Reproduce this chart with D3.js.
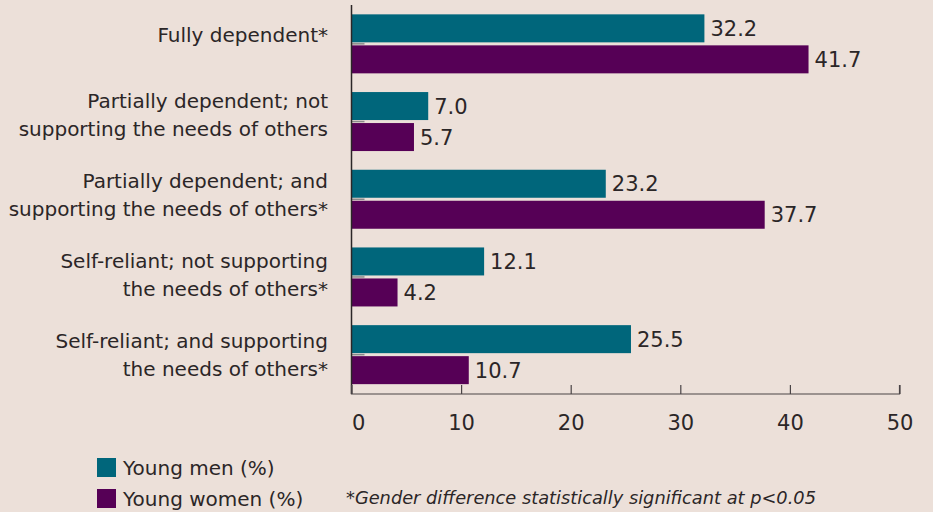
<!DOCTYPE html>
<html><head><meta charset="utf-8">
<script src="https://cdn.jsdelivr.net/npm/d3@7"></script>
<style>
html,body{margin:0;padding:0;background:#ece0d9;}
svg{display:block;}
text{font-family:"DejaVu Sans",sans-serif;fill:#2b2627;}
</style></head>
<body>
<svg id="chart" width="933" height="512"></svg>
<script>
const categories = [
  ["Fully dependent*"],
  ["Partially dependent; not", "supporting the needs of others"],
  ["Partially dependent; and", "supporting the needs of others*"],
  ["Self-reliant; not supporting", "the needs of others*"],
  ["Self-reliant; and supporting", "the needs of others*"]
];
const youngMen = [32.2, 7.0, 23.2, 12.1, 25.5];
const youngWomen = [41.7, 5.7, 37.7, 4.2, 10.7];
const xTicks = [0, 10, 20, 30, 40, 50];
const seriesNames = ["Young men (%)", "Young women (%)"];
const footnote = "*Gender difference statistically significant at p<0.05";

const colors = ["#00667b", "#560056"];
const svg = d3.select("#chart");
const x = d3.scaleLinear().domain([0, 50]).range([351.5, 899.5]);
const y = d3.scaleBand().domain(d3.range(categories.length)).range([5, 393.5]).paddingInner(0.26).paddingOuter(0.13);
const labelY = d3.scaleLinear().domain([0, categories.length - 1]).range([35, 355]);
const barH = 28, gap = 3;

// bars
const groups = svg.append("g").selectAll("g").data(categories).join("g")
  .attr("transform", (d, i) => `translate(0,${y(i) + y.bandwidth()/2})`);

[youngMen, youngWomen].forEach((vals, s) => {
  groups.append("rect")
    .attr("x", x(0))
    .attr("y", s === 0 ? -barH - gap/2 : gap/2)
    .attr("width", (d, i) => x(vals[i]) - x(0))
    .attr("height", barH)
    .attr("fill", colors[s]);
  groups.append("text")
    .attr("x", (d, i) => x(vals[i]) + 6)
    .attr("y", s === 0 ? -barH/2 - gap/2 : barH/2 + gap/2)
    .attr("dy", "0.36em")
    .attr("font-size", 21)
    .text((d, i) => vals[i].toFixed(1));
});
// small separator ticks
groups.append("line")
  .attr("x1", x(0)).attr("x2", x(0) + 13)
  .attr("y1", 0).attr("y2", 0)
  .attr("stroke", "#8a8a8a").attr("stroke-width", 1.5);

// category labels
const labels = svg.append("g").selectAll("g").data(categories).join("g")
  .attr("transform", (d, i) => `translate(0,${labelY(i)})`);
labels.each(function(lines) {
  const g = d3.select(this);
  const lh = 28.5;
  const start = -(lines.length - 1) * lh / 2;
  lines.forEach((t, k) => {
    g.append("text")
      .attr("x", 328)
      .attr("y", start + k * lh)
      .attr("dy", "0.36em")
      .attr("text-anchor", "end")
      .attr("font-size", 20)
      .text(t);
  });
});

// y axis line
svg.append("line").attr("x1", x(0)).attr("x2", x(0)).attr("y1", 5).attr("y2", 394)
  .attr("stroke", "#2b2627").attr("stroke-width", 1.5);

// x axis
const xAxis = d3.axisTop(x).tickValues(xTicks).tickSize(9).tickFormat(d3.format("d"));
const ax = svg.append("g").attr("transform", "translate(0,394)").call(xAxis);
ax.select(".domain").attr("stroke", "#4a4446").attr("stroke-width", 1.2).attr("d", `M${x(0)},-9V0H${x(50)}V-9`);
ax.selectAll(".tick line").attr("stroke", "#4a4446").attr("stroke-width", 1.2);
ax.selectAll(".tick text").attr("y", 28).attr("dy", "0.36em")
  .attr("font-size", 21).attr("font-family", "DejaVu Sans, sans-serif").attr("fill", "#2b2627")
  .attr("text-anchor", d => d === 0 ? "start" : "middle");

// legend
const leg = svg.append("g").selectAll("g").data(seriesNames).join("g")
  .attr("transform", (d, i) => `translate(97,${458 + i * 31})`);
leg.append("rect").attr("width", 19).attr("height", 19).attr("fill", (d, i) => colors[i]);
leg.append("text").attr("x", 26).attr("y", 10).attr("dy", "0.36em").attr("font-size", 20).text(d => d);

svg.append("text").attr("x", 346).attr("y", 498).attr("dy", "0.36em")
  .attr("font-size", 17.8).attr("font-style", "italic").text(footnote);
</script>
</body></html>
